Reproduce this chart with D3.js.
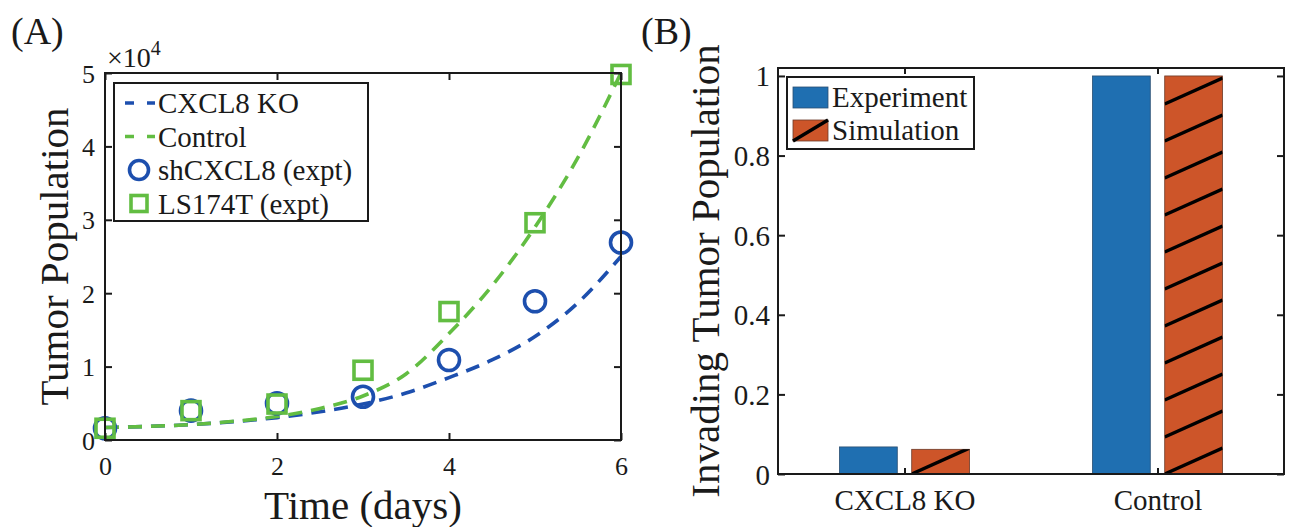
<!DOCTYPE html>
<html>
<head>
<meta charset="utf-8">
<script src="https://cdn.jsdelivr.net/npm/d3@7"></script>
<style>
  body { margin: 0; background: #fff; }
  text { font-family: "Liberation Serif", "Times New Roman", serif; fill: #1a1a1a; }
</style>
</head>
<body>
<svg id="fig" width="1290" height="527"></svg>
<script>
// ---- panel A data (tumor counts) ----
const exptDays = [0, 1, 2, 3, 4, 5, 6];
const shCXCL8 = [1600, 4000, 5000, 5900, 10900, 18900, 26900];
const ls174t = [1600, 4000, 4900, 9500, 17500, 29600, 49800];

const fitDays = [0, 0.5, 1, 1.5, 2, 2.5, 3, 3.5, 4, 4.5, 5, 5.5, 6];
const koFit = [1700, 1850, 2100, 2500, 3050, 3850, 4900, 6400, 8500, 10900, 14100, 18700, 25000];
const controlFit = [1700, 1850, 2100, 2550, 3200, 4300, 6000, 9000, 14500, 21000, 29000, 38500, 50000];

const xTicksA = [0, 2, 4, 6];
const yTicksA = [0, 1, 2, 3, 4, 5];   // x 10^4

// ---- panel B data (invading fraction) ----
const categories = ["CXCL8 KO", "Control"];
const experiment = [0.068, 1];
const simulation = [0.062, 1];
const yTicksB = [0, 0.2, 0.4, 0.6, 0.8, 1];

const blue = "#1d4fae", green = "#62bd42";
const barBlue = "#1f6fb1", barOrange = "#cd5529";

const svg = d3.select("#fig");
svg.append("rect").attr("width", 1290).attr("height", 527).attr("fill", "#fff");

// ================= panel A =================
const boxA = {left: 105, right: 621, top: 73, bottom: 440};
const xA = d3.scaleLinear().domain([0, 6]).range([boxA.left, boxA.right]);
const yA = d3.scaleLinear().domain([0, 5e4]).range([boxA.bottom, boxA.top]);
const gA = svg.append("g");

gA.append("text").attr("x", 11).attr("y", 44).style("font-size", "38px").text("(A)");

// fits
const lineA = d3.line().x(d => xA(d[0])).y(d => yA(d[1])).curve(d3.curveMonotoneX);
gA.append("path").datum(fitDays.map((t, i) => [t, koFit[i]]))
  .attr("d", lineA).attr("fill", "none").attr("stroke", blue)
  .attr("stroke-width", 3.6).attr("stroke-dasharray", "14,9");
gA.append("path").datum(fitDays.map((t, i) => [t, controlFit[i]]))
  .attr("d", lineA).attr("fill", "none").attr("stroke", green)
  .attr("stroke-width", 3.6).attr("stroke-dasharray", "14,9");

// experiment markers
gA.selectAll(".circ").data(exptDays).enter().append("circle")
  .attr("cx", d => xA(d)).attr("cy", (d, i) => yA(shCXCL8[i])).attr("r", 10.5)
  .attr("fill", "none").attr("stroke", blue).attr("stroke-width", 3.6);
gA.selectAll(".sq").data(exptDays).enter().append("rect")
  .attr("x", d => xA(d) - 9).attr("y", (d, i) => yA(ls174t[i]) - 9)
  .attr("width", 18).attr("height", 18)
  .attr("fill", "none").attr("stroke", green).attr("stroke-width", 3.6);

// axes box + inward ticks
gA.append("rect").attr("x", boxA.left).attr("y", boxA.top)
  .attr("width", boxA.right - boxA.left).attr("height", boxA.bottom - boxA.top)
  .attr("fill", "none").attr("stroke", "#1a1a1a").attr("stroke-width", 2);

const axA = gA.append("g").attr("transform", `translate(0,${boxA.bottom})`)
  .call(d3.axisBottom(xA).tickValues(xTicksA).tickSizeInner(-7).tickSizeOuter(0)
    .tickFormat(d3.format("d")));
const axAtop = gA.append("g").attr("transform", `translate(0,${boxA.top})`)
  .call(d3.axisTop(xA).tickValues(xTicksA).tickSizeInner(-7).tickSizeOuter(0).tickFormat(""));
const ayA = gA.append("g").attr("transform", `translate(${boxA.left},0)`)
  .call(d3.axisLeft(yA).tickValues(yTicksA.map(v => v * 1e4)).tickSizeInner(-7).tickSizeOuter(0)
    .tickFormat(d => d3.format("d")(d / 1e4)));
const ayAright = gA.append("g").attr("transform", `translate(${boxA.right},0)`)
  .call(d3.axisRight(yA).tickValues(yTicksA.map(v => v * 1e4)).tickSizeInner(-7).tickSizeOuter(0).tickFormat(""));
[axA, axAtop, ayA, ayAright].forEach(a => {
  a.select(".domain").remove();
  a.selectAll("line").attr("stroke", "#1a1a1a").attr("stroke-width", 2);
});
axA.selectAll("text").attr("dy", null).attr("y", 35).style("font-size", "26px").attr("fill", "#1a1a1a");
ayA.selectAll("text").attr("dy", null).attr("x", -10).attr("y", 9).style("font-size", "26px").attr("fill", "#1a1a1a");

// exponent label
const expo = gA.append("text").attr("x", 107).attr("y", 67).style("font-size", "28px");
expo.append("tspan").text("\u00d710");
expo.append("tspan").attr("dy", -12).style("font-size", "20px").text("4");

gA.append("text").attr("x", (boxA.left + boxA.right) / 2).attr("y", 519)
  .attr("text-anchor", "middle").style("font-size", "41px").text("Time (days)");
gA.append("text").attr("transform", `translate(68,${(boxA.top + boxA.bottom) / 2}) rotate(-90)`)
  .attr("text-anchor", "middle").style("font-size", "41px").text("Tumor Population");

// legend A
const legA = gA.append("g");
legA.append("rect").attr("x", 114).attr("y", 83).attr("width", 254).attr("height", 138)
  .attr("fill", "#fff").attr("stroke", "#1a1a1a").attr("stroke-width", 2);
const legRows = [
  {label: "CXCL8 KO", type: "line", color: blue},
  {label: "Control", type: "line", color: green},
  {label: "shCXCL8 (expt)", type: "circle", color: blue},
  {label: "LS174T (expt)", type: "square", color: green}
];
legRows.forEach((r, i) => {
  const cy = 103 + i * 33.5;
  if (r.type === "line") {
    legA.append("line").attr("x1", 125).attr("x2", 155).attr("y1", cy).attr("y2", cy)
      .attr("stroke", r.color).attr("stroke-width", 3.6).attr("stroke-dasharray", "9,13");
  } else if (r.type === "circle") {
    legA.append("circle").attr("cx", 139).attr("cy", cy).attr("r", 9.5)
      .attr("fill", "none").attr("stroke", r.color).attr("stroke-width", 3.6);
  } else {
    legA.append("rect").attr("x", 131).attr("y", cy - 8).attr("width", 16).attr("height", 16)
      .attr("fill", "none").attr("stroke", r.color).attr("stroke-width", 3.6);
  }
  legA.append("text").attr("x", 158).attr("y", cy + 10).style("font-size", "29px").text(r.label);
});

// ================= panel B =================
const boxB = {left: 778, right: 1284, top: 68, bottom: 474};
const xB = d3.scaleLinear().domain([0.5, 2.5]).range([boxB.left, boxB.right]);
const yB = d3.scaleLinear().domain([0, 1.02]).range([boxB.bottom, boxB.top]);
const gB = svg.append("g");

gB.append("text").attr("x", 641).attr("y", 44).style("font-size", "38px").text("(B)");

const groupOffset = 0.1428, barW = 0.2286;
const barPx = xB(barW) - xB(0);
const hatchGap = 37, hatchSlope = 0.45;

function drawHatch(g, x, y, w, h, id) {
  g.append("clipPath").attr("id", id).append("rect")
    .attr("x", x).attr("y", y).attr("width", w).attr("height", h);
  const hg = g.append("g").attr("clip-path", `url(#${id})`);
  const n = Math.ceil((h + w * hatchSlope) / hatchGap);
  for (let k = 0; k <= n; k++) {
    const y0 = y + h - k * hatchGap;
    hg.append("line").attr("x1", x).attr("y1", y0).attr("x2", x + w).attr("y2", y0 - w * hatchSlope)
      .attr("stroke", "#000").attr("stroke-width", 3.4);
  }
}

categories.forEach((c, i) => {
  const cx = i + 1;
  gB.append("rect")
    .attr("x", xB(cx - groupOffset) - barPx / 2).attr("y", yB(experiment[i]))
    .attr("width", barPx).attr("height", yB(0) - yB(experiment[i]))
    .attr("fill", barBlue).attr("stroke", "#2b4f72").attr("stroke-width", 0.8);
  const sx = xB(cx + groupOffset) - barPx / 2, sy = yB(simulation[i]);
  const sh = yB(0) - yB(simulation[i]);
  gB.append("rect").attr("x", sx).attr("y", sy).attr("width", barPx).attr("height", sh)
    .attr("fill", barOrange).attr("stroke", "#6b3a28").attr("stroke-width", 0.8);
  drawHatch(gB, sx, sy, barPx, sh, "hatch" + i);
});

gB.append("rect").attr("x", boxB.left).attr("y", boxB.top)
  .attr("width", boxB.right - boxB.left).attr("height", boxB.bottom - boxB.top)
  .attr("fill", "none").attr("stroke", "#1a1a1a").attr("stroke-width", 2);

const catTicks = categories.map((c, i) => i + 1);
const axB = gB.append("g").attr("transform", `translate(0,${boxB.bottom})`)
  .call(d3.axisBottom(xB).tickValues(catTicks).tickSizeInner(-6).tickSizeOuter(0)
    .tickFormat((d, i) => categories[i]));
const axBtop = gB.append("g").attr("transform", `translate(0,${boxB.top})`)
  .call(d3.axisTop(xB).tickValues(catTicks).tickSizeInner(-6).tickSizeOuter(0).tickFormat(""));
const ayB = gB.append("g").attr("transform", `translate(${boxB.left},0)`)
  .call(d3.axisLeft(yB).tickValues(yTicksB).tickSizeInner(-7).tickSizeOuter(0).tickFormat(d => String(d)));
const ayBright = gB.append("g").attr("transform", `translate(${boxB.right},0)`)
  .call(d3.axisRight(yB).tickValues(yTicksB).tickSizeInner(-7).tickSizeOuter(0).tickFormat(""));
[axB, axBtop, ayB, ayBright].forEach(a => {
  a.select(".domain").remove();
  a.selectAll("line").attr("stroke", "#1a1a1a").attr("stroke-width", 2);
});
axB.selectAll("text").attr("dy", null).attr("y", 36).style("font-size", "29px").attr("fill", "#1a1a1a");
ayB.selectAll("text").attr("dy", null).attr("x", -8).attr("y", 10).style("font-size", "29px").attr("fill", "#1a1a1a");

gB.append("text").attr("transform", `translate(719,${(boxB.top + boxB.bottom) / 2}) rotate(-90)`)
  .attr("text-anchor", "middle").style("font-size", "41px").text("Invading Tumor Population");

// legend B
const legB = gB.append("g");
legB.append("rect").attr("x", 787).attr("y", 77).attr("width", 187).attr("height", 72)
  .attr("fill", "#fff").attr("stroke", "#1a1a1a").attr("stroke-width", 2);
legB.append("rect").attr("x", 793).attr("y", 87).attr("width", 35).attr("height", 21)
  .attr("fill", barBlue).attr("stroke", "#2b4f72").attr("stroke-width", 0.8);
legB.append("rect").attr("x", 793).attr("y", 120).attr("width", 35).attr("height", 21)
  .attr("fill", barOrange).attr("stroke", "#6b3a28").attr("stroke-width", 0.8);
legB.append("line").attr("x1", 793).attr("y1", 141).attr("x2", 828).attr("y2", 120)
  .attr("stroke", "#000").attr("stroke-width", 3.4);
legB.append("text").attr("x", 832).attr("y", 107).style("font-size", "29px").text("Experiment");
legB.append("text").attr("x", 832).attr("y", 140).style("font-size", "29px").text("Simulation");
</script>
</body>
</html>
